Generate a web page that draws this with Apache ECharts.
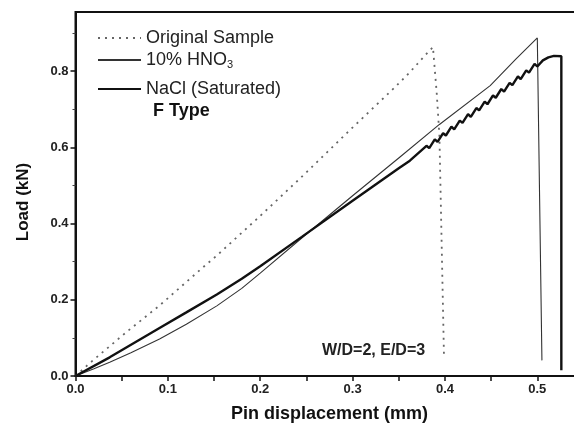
<!DOCTYPE html>
<html>
<head>
<meta charset="utf-8">
<script src="https://cdn.jsdelivr.net/npm/echarts@6/dist/echarts.min.js"></script>
<style>html,body{margin:0;padding:0;background:#fff}#c{width:574px;height:432px}</style>
</head>
<body>
<div id="c"></div>
<script>
// ---- data ----
var seriesNames = ['Original Sample', '10% HNO3', 'NaCl (Saturated)'];
var xTickLabels = [0, 0.1, 0.2, 0.3, 0.4, 0.5];
var xTickMarks = [0, 0.05, 0.1, 0.15, 0.2, 0.25, 0.3, 0.35, 0.4, 0.45, 0.5];
var yTickLabels = [0, 0.2, 0.4, 0.6, 0.8];
var yMinorTicks = [0.1, 0.3, 0.5, 0.7, 0.9];

var origX = [0, 0.016, 0.056, 0.091, 0.138, 0.153, 0.200, 0.246, 0.297, 0.346, 0.362, 0.378, 0.387, 0.391, 0.394, 0.399];
var origY = [0, 0.035, 0.117, 0.185, 0.285, 0.316, 0.420, 0.525, 0.645, 0.758, 0.797, 0.840, 0.863, 0.745, 0.631, 0.046];

var hno3X = [0, 0.020, 0.037, 0.060, 0.091, 0.120, 0.153, 0.180, 0.200, 0.245, 0.300, 0.350, 0.394, 0.449, 0.477, 0.500, 0.505];
var hno3Y = [0, 0.019, 0.036, 0.061, 0.097, 0.136, 0.184, 0.230, 0.270, 0.362, 0.473, 0.572, 0.660, 0.762, 0.832, 0.887, 0.041];

var naclX = [0, 0.037, 0.091, 0.120, 0.153, 0.180, 0.200, 0.245, 0.300, 0.350, 0.362,
  0.380, 0.383, 0.389, 0.392, 0.398, 0.401, 0.407, 0.410, 0.416, 0.419, 0.425, 0.428,
  0.434, 0.437, 0.443, 0.446, 0.452, 0.455, 0.461, 0.464, 0.470, 0.473, 0.479, 0.482,
  0.488, 0.491, 0.497, 0.500, 0.506, 0.512, 0.518, 0.526, 0.526];
var naclY = [0, 0.049, 0.126, 0.167, 0.214, 0.255, 0.288, 0.365, 0.460, 0.545, 0.565,
  0.604, 0.598, 0.621, 0.614, 0.637, 0.631, 0.654, 0.647, 0.670, 0.664, 0.687, 0.680,
  0.703, 0.697, 0.720, 0.713, 0.736, 0.730, 0.753, 0.746, 0.769, 0.763, 0.786, 0.779,
  0.802, 0.796, 0.819, 0.812, 0.828, 0.836, 0.840, 0.839, 0.015];

function pairs(xs, ys) { return xs.map(function (x, i) { return [x, ys[i]]; }); }

var chart = echarts.init(document.getElementById('c'));
var FONT = 'Liberation Sans, Arial, sans-serif';
var legendText = {
  fontSize: 18, fontFamily: FONT, color: '#222',
  rich: { sub: { fontSize: 11, fontFamily: FONT, color: '#222', verticalAlign: 'bottom', padding: [10, 0, 0, 0] } }
};
function legendFmt(n) { return n === '10% HNO3' ? '10% HNO{sub|3}' : n; }
function mkLegend(i, top) {
  return { data: [seriesNames[i]], left: 97, top: top, padding: 0, itemWidth: 43, itemHeight: 16, itemGap: 0,
    formatter: legendFmt, textStyle: legendText,
    itemStyle: { opacity: 0, color: 'transparent', borderWidth: 0 } };
}

chart.setOption({
  animation: false,
  backgroundColor: '#fff',
  grid: { left: 75.5, top: 12, width: 508, height: 364, outerBoundsMode: 'none', containLabel: false,
    show: true, borderColor: '#111', borderWidth: 2, backgroundColor: 'transparent' },
  legend: [mkLegend(0, 29), mkLegend(1, 51), mkLegend(2, 80)],
  xAxis: {
    type: 'value', min: 0, max: 0.55, position: 'bottom',
    axisLine: { show: true, onZero: false, lineStyle: { color: '#111', width: 2 } },
    axisTick: { show: true, customValues: xTickMarks, length: 5, lineStyle: { color: '#111', width: 1.5 } },
    axisLabel: { customValues: xTickLabels, formatter: function (v) { return v.toFixed(1); }, fontSize: 13, fontWeight: 'bold', fontFamily: FONT, color: '#222', margin: 7 },
    splitLine: { show: false },
    name: 'Pin displacement (mm)', nameLocation: 'middle', nameGap: 29,
    nameTextStyle: { fontSize: 18, fontWeight: 'bold', fontFamily: FONT, color: '#111' }
  },
  yAxis: [{
    type: 'value', min: 0, max: 0.955, position: 'left',
    axisLine: { show: true, onZero: false, lineStyle: { color: '#111', width: 2 } },
    axisTick: { show: true, customValues: yTickLabels, length: 5, lineStyle: { color: '#111', width: 1.5 } },
    axisLabel: { customValues: yTickLabels, formatter: function (v) { return v.toFixed(1); }, fontSize: 13, fontWeight: 'bold', fontFamily: FONT, color: '#222', margin: 7 },
    splitLine: { show: false },
    name: 'Load (kN)', nameLocation: 'middle', nameGap: 44,
    nameTextStyle: { fontSize: 17, fontWeight: 'bold', fontFamily: FONT, color: '#111', padding: [0, 0, 0, -16] }
  }, {
    type: 'value', min: 0, max: 0.955, position: 'left',
    axisLine: { show: false },
    axisTick: { show: true, customValues: yMinorTicks, length: 3, lineStyle: { color: '#444', width: 1 } },
    axisLabel: { show: false },
    splitLine: { show: false }
  }],
  series: [
    { name: seriesNames[0], type: 'line', data: pairs(origX, origY), symbol: 'none', z: 2,
      itemStyle: { color: '#666' },
      lineStyle: { color: '#666', width: 1.8, type: [2, 5] } },
    { name: seriesNames[1], type: 'line', data: pairs(hno3X, hno3Y), symbol: 'none', z: 3,
      itemStyle: { color: '#333' },
      lineStyle: { color: '#333', width: 1.1 } },
    { name: seriesNames[2], type: 'line', data: pairs(naclX, naclY), symbol: 'none', z: 4,
      itemStyle: { color: '#111' },
      lineStyle: { color: '#111', width: 2.4 } }
  ],
  graphic: [
    { type: 'text', left: 153, top: 102, style: { text: 'F Type', font: 'bold 18px ' + FONT, fill: '#111' } },
    { type: 'text', left: 322, top: 343, style: { text: 'W/D=2, E/D=3', font: 'bold 16px ' + FONT, fill: '#222' } }
  ]
});
</script>
</body>
</html>
